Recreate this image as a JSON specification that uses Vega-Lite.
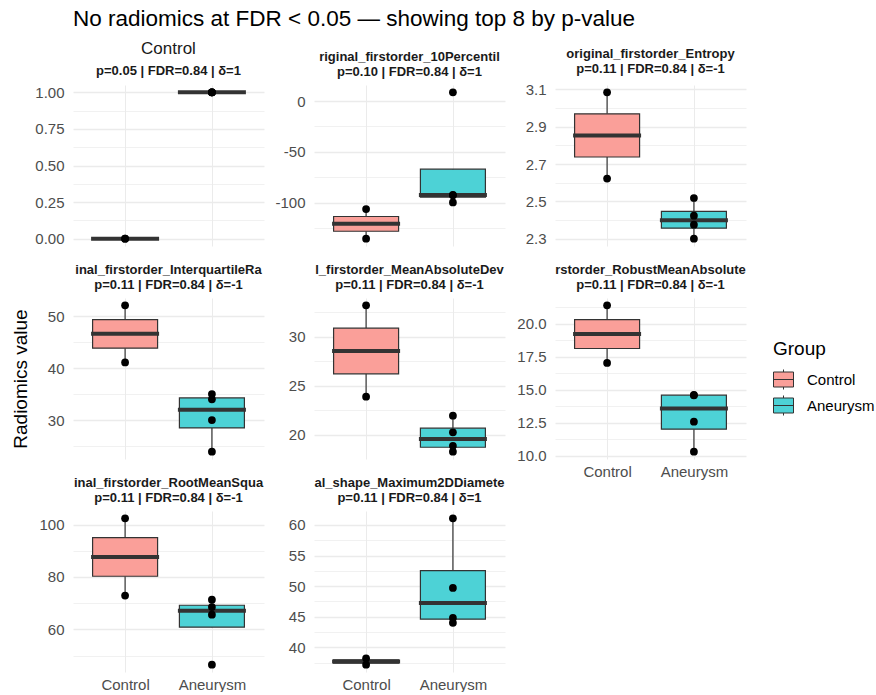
{
  "$schema": "https://vega.github.io/schema/vega-lite/v6.json",
  "autosize": {"type": "pad"},
  "padding": {"left": 10, "top": 8, "right": 2, "bottom": 0},
  "background": "white",
  "title": {"text": "No radiomics at FDR < 0.05 — showing top 8 by p-value", "fontSize": 22.5, "fontWeight": "normal", "color": "black", "anchor": "start", "frame": "group", "offset": 9},
  "data": {"values": [
    {"feature": "Control", "group": "Control", "value": 0},
    {"feature": "Control", "group": "Control", "value": 0},
    {"feature": "Control", "group": "Aneurysm", "value": 1},
    {"feature": "Control", "group": "Aneurysm", "value": 1},
    {"feature": "Control", "group": "Aneurysm", "value": 1},
    {"feature": "Control", "group": "Aneurysm", "value": 1},
    {"feature": "original_firstorder_10Percentile", "group": "Control", "value": -106},
    {"feature": "original_firstorder_10Percentile", "group": "Control", "value": -135},
    {"feature": "original_firstorder_10Percentile", "group": "Aneurysm", "value": 8.5},
    {"feature": "original_firstorder_10Percentile", "group": "Aneurysm", "value": -92},
    {"feature": "original_firstorder_10Percentile", "group": "Aneurysm", "value": -92.5},
    {"feature": "original_firstorder_10Percentile", "group": "Aneurysm", "value": -99.5},
    {"feature": "original_firstorder_Entropy", "group": "Control", "value": 3.084},
    {"feature": "original_firstorder_Entropy", "group": "Control", "value": 2.622},
    {"feature": "original_firstorder_Entropy", "group": "Aneurysm", "value": 2.518},
    {"feature": "original_firstorder_Entropy", "group": "Aneurysm", "value": 2.423},
    {"feature": "original_firstorder_Entropy", "group": "Aneurysm", "value": 2.375},
    {"feature": "original_firstorder_Entropy", "group": "Aneurysm", "value": 2.3},
    {"feature": "original_firstorder_InterquartileRange", "group": "Control", "value": 52.1},
    {"feature": "original_firstorder_InterquartileRange", "group": "Control", "value": 41.1},
    {"feature": "original_firstorder_InterquartileRange", "group": "Aneurysm", "value": 35.0},
    {"feature": "original_firstorder_InterquartileRange", "group": "Aneurysm", "value": 34.0},
    {"feature": "original_firstorder_InterquartileRange", "group": "Aneurysm", "value": 30.0},
    {"feature": "original_firstorder_InterquartileRange", "group": "Aneurysm", "value": 23.9},
    {"feature": "original_firstorder_MeanAbsoluteDeviation", "group": "Control", "value": 33.2},
    {"feature": "original_firstorder_MeanAbsoluteDeviation", "group": "Control", "value": 23.9},
    {"feature": "original_firstorder_MeanAbsoluteDeviation", "group": "Aneurysm", "value": 21.96},
    {"feature": "original_firstorder_MeanAbsoluteDeviation", "group": "Aneurysm", "value": 20.27},
    {"feature": "original_firstorder_MeanAbsoluteDeviation", "group": "Aneurysm", "value": 18.9},
    {"feature": "original_firstorder_MeanAbsoluteDeviation", "group": "Aneurysm", "value": 18.3},
    {"feature": "original_firstorder_RobustMeanAbsoluteDeviation", "group": "Control", "value": 21.38},
    {"feature": "original_firstorder_RobustMeanAbsoluteDeviation", "group": "Control", "value": 17.02},
    {"feature": "original_firstorder_RobustMeanAbsoluteDeviation", "group": "Aneurysm", "value": 14.6},
    {"feature": "original_firstorder_RobustMeanAbsoluteDeviation", "group": "Aneurysm", "value": 14.57},
    {"feature": "original_firstorder_RobustMeanAbsoluteDeviation", "group": "Aneurysm", "value": 12.57},
    {"feature": "original_firstorder_RobustMeanAbsoluteDeviation", "group": "Aneurysm", "value": 10.3},
    {"feature": "original_firstorder_RootMeanSquared", "group": "Control", "value": 102.4},
    {"feature": "original_firstorder_RootMeanSquared", "group": "Control", "value": 72.9},
    {"feature": "original_firstorder_RootMeanSquared", "group": "Aneurysm", "value": 71.3},
    {"feature": "original_firstorder_RootMeanSquared", "group": "Aneurysm", "value": 68.5},
    {"feature": "original_firstorder_RootMeanSquared", "group": "Aneurysm", "value": 65.6},
    {"feature": "original_firstorder_RootMeanSquared", "group": "Aneurysm", "value": 46.5},
    {"feature": "original_shape_Maximum2DDiameterSlice", "group": "Control", "value": 38.2},
    {"feature": "original_shape_Maximum2DDiameterSlice", "group": "Control", "value": 37.17},
    {"feature": "original_shape_Maximum2DDiameterSlice", "group": "Aneurysm", "value": 61.08},
    {"feature": "original_shape_Maximum2DDiameterSlice", "group": "Aneurysm", "value": 49.7},
    {"feature": "original_shape_Maximum2DDiameterSlice", "group": "Aneurysm", "value": 44.8},
    {"feature": "original_shape_Maximum2DDiameterSlice", "group": "Aneurysm", "value": 44.0}
  ]},
  "columns": 3,
  "bounds": "flush",
  "spacing": {"row": 52, "column": 50},
  "concat": [
    {
      "title": {"text": "Control", "subtitle": "p=0.05 | FDR=0.84 | δ=1", "fontSize": 17, "fontWeight": "normal", "subtitlePadding": 7},
      "width": 191, "height": 161,
      "transform": [{"filter": "datum.feature === 'Control'"}],
      "encoding": {
        "x": {"field": "group", "type": "nominal", "sort": ["Control", "Aneurysm"], "scale": {"type": "point", "padding": 0.6}, "axis": {"labels": false, "title": null}},
        "y": {"field": "value", "type": "quantitative", "scale": {"domain": [-0.05, 1.05], "nice": false, "zero": false},
          "axis": {"title": null, "values": [0, 0.125, 0.25, 0.375, 0.5, 0.625, 0.75, 0.875, 1],
            "labelExpr": "indexof([0, 0.25, 0.5, 0.75, 1], datum.value) >= 0 ? format(datum.value, '.2f') : ''",
            "gridWidth": {"condition": {"test": "indexof([0, 0.25, 0.5, 0.75, 1], datum.value) >= 0", "value": 1.4}, "value": 0.7}}}
      },
      "layer": [
        {"mark": {"type": "boxplot", "extent": 1.5, "size": 65, "outliers": false, "ticks": false, "box": {"stroke": "#333333", "strokeWidth": 1.2}, "median": {"stroke": "#333333", "strokeWidth": 3, "opacity": 1}, "rule": {"stroke": "#333333", "strokeWidth": 1.2}},
         "encoding": {"color": {"field": "group", "type": "nominal", "scale": {"domain": ["Control", "Aneurysm"], "range": ["#FA9F99", "#4DD2D6"]}, "title": "Group"}}},
        {"mark": {"type": "circle", "size": 60, "color": "black", "opacity": 1}}
      ]
    },
    {
      "title": {"text": "riginal_firstorder_10Percentil", "subtitle": "p=0.10 | FDR=0.84 | δ=1"},
      "width": 191, "height": 161,
      "transform": [{"filter": "datum.feature === 'original_firstorder_10Percentile'"}],
      "encoding": {
        "x": {"field": "group", "type": "nominal", "sort": ["Control", "Aneurysm"], "scale": {"type": "point", "padding": 0.6}, "axis": {"labels": false, "title": null}},
        "y": {"field": "value", "type": "quantitative", "scale": {"domain": [-142.2, 15.7], "nice": false, "zero": false},
          "axis": {"title": null, "values": [-125, -100, -75, -50, -25, 0],
            "labelExpr": "indexof([-100, -50, 0], datum.value) >= 0 ? toString(datum.value) : ''",
            "gridWidth": {"condition": {"test": "indexof([-100, -50, 0], datum.value) >= 0", "value": 1.4}, "value": 0.7}}}
      },
      "layer": [
        {"mark": {"type": "boxplot", "extent": 1.5, "size": 65, "outliers": false, "ticks": false, "box": {"stroke": "#333333", "strokeWidth": 1.2}, "median": {"stroke": "#333333", "strokeWidth": 3, "opacity": 1}, "rule": {"stroke": "#333333", "strokeWidth": 1.2}},
         "encoding": {"color": {"field": "group", "type": "nominal", "scale": {"domain": ["Control", "Aneurysm"], "range": ["#FA9F99", "#4DD2D6"]}, "title": "Group"}}},
        {"mark": {"type": "circle", "size": 60, "color": "black", "opacity": 1}}
      ]
    },
    {
      "title": {"text": "original_firstorder_Entropy", "subtitle": "p=0.11 | FDR=0.84 | δ=-1"},
      "width": 191, "height": 161,
      "transform": [{"filter": "datum.feature === 'original_firstorder_Entropy'"}],
      "encoding": {
        "x": {"field": "group", "type": "nominal", "sort": ["Control", "Aneurysm"], "scale": {"type": "point", "padding": 0.6}, "axis": {"labels": false, "title": null}},
        "y": {"field": "value", "type": "quantitative", "scale": {"domain": [2.261, 3.123], "nice": false, "zero": false},
          "axis": {"title": null, "values": [2.3, 2.4, 2.5, 2.6, 2.7, 2.8, 2.9, 3.0, 3.1],
            "labelExpr": "indexof([2.3, 2.5, 2.7, 2.9, 3.1], datum.value) >= 0 ? format(datum.value, '.1f') : ''",
            "gridWidth": {"condition": {"test": "indexof([2.3, 2.5, 2.7, 2.9, 3.1], datum.value) >= 0", "value": 1.4}, "value": 0.7}}}
      },
      "layer": [
        {"mark": {"type": "boxplot", "extent": 1.5, "size": 65, "outliers": false, "ticks": false, "box": {"stroke": "#333333", "strokeWidth": 1.2}, "median": {"stroke": "#333333", "strokeWidth": 3, "opacity": 1}, "rule": {"stroke": "#333333", "strokeWidth": 1.2}},
         "encoding": {"color": {"field": "group", "type": "nominal", "scale": {"domain": ["Control", "Aneurysm"], "range": ["#FA9F99", "#4DD2D6"]}, "title": "Group"}}},
        {"mark": {"type": "circle", "size": 60, "color": "black", "opacity": 1}}
      ]
    },
    {
      "title": {"text": "inal_firstorder_InterquartileRa", "subtitle": "p=0.11 | FDR=0.84 | δ=-1"},
      "width": 191, "height": 161,
      "transform": [{"filter": "datum.feature === 'original_firstorder_InterquartileRange'"}],
      "encoding": {
        "x": {"field": "group", "type": "nominal", "sort": ["Control", "Aneurysm"], "scale": {"type": "point", "padding": 0.6}, "axis": {"labels": false, "title": null}},
        "y": {"field": "value", "type": "quantitative", "scale": {"domain": [22.49, 53.51], "nice": false, "zero": false},
          "axis": {"title": "Radiomics value", "titleFontSize": 19, "titleFontWeight": "normal", "titleColor": "black", "titlePadding": 3,
            "values": [25, 30, 35, 40, 45, 50],
            "labelExpr": "indexof([30, 40, 50], datum.value) >= 0 ? toString(datum.value) : ''",
            "gridWidth": {"condition": {"test": "indexof([30, 40, 50], datum.value) >= 0", "value": 1.4}, "value": 0.7}}}
      },
      "layer": [
        {"mark": {"type": "boxplot", "extent": 1.5, "size": 65, "outliers": false, "ticks": false, "box": {"stroke": "#333333", "strokeWidth": 1.2}, "median": {"stroke": "#333333", "strokeWidth": 3, "opacity": 1}, "rule": {"stroke": "#333333", "strokeWidth": 1.2}},
         "encoding": {"color": {"field": "group", "type": "nominal", "scale": {"domain": ["Control", "Aneurysm"], "range": ["#FA9F99", "#4DD2D6"]}, "title": "Group"}}},
        {"mark": {"type": "circle", "size": 60, "color": "black", "opacity": 1}}
      ]
    },
    {
      "title": {"text": "l_firstorder_MeanAbsoluteDev", "subtitle": "p=0.11 | FDR=0.84 | δ=-1"},
      "width": 191, "height": 161,
      "transform": [{"filter": "datum.feature === 'original_firstorder_MeanAbsoluteDeviation'"}],
      "encoding": {
        "x": {"field": "group", "type": "nominal", "sort": ["Control", "Aneurysm"], "scale": {"type": "point", "padding": 0.6}, "axis": {"labels": false, "title": null}},
        "y": {"field": "value", "type": "quantitative", "scale": {"domain": [17.555, 33.945], "nice": false, "zero": false},
          "axis": {"title": null, "values": [20, 22.5, 25, 27.5, 30, 32.5],
            "labelExpr": "indexof([20, 25, 30], datum.value) >= 0 ? toString(datum.value) : ''",
            "gridWidth": {"condition": {"test": "indexof([20, 25, 30], datum.value) >= 0", "value": 1.4}, "value": 0.7}}}
      },
      "layer": [
        {"mark": {"type": "boxplot", "extent": 1.5, "size": 65, "outliers": false, "ticks": false, "box": {"stroke": "#333333", "strokeWidth": 1.2}, "median": {"stroke": "#333333", "strokeWidth": 3, "opacity": 1}, "rule": {"stroke": "#333333", "strokeWidth": 1.2}},
         "encoding": {"color": {"field": "group", "type": "nominal", "scale": {"domain": ["Control", "Aneurysm"], "range": ["#FA9F99", "#4DD2D6"]}, "title": "Group"}}},
        {"mark": {"type": "circle", "size": 60, "color": "black", "opacity": 1}}
      ]
    },
    {
      "title": {"text": "rstorder_RobustMeanAbsolute", "subtitle": "p=0.11 | FDR=0.84 | δ=-1"},
      "width": 191, "height": 161,
      "transform": [{"filter": "datum.feature === 'original_firstorder_RobustMeanAbsoluteDeviation'"}],
      "encoding": {
        "x": {"field": "group", "type": "nominal", "sort": ["Control", "Aneurysm"], "scale": {"type": "point", "padding": 0.6}, "axis": {"labels": true, "labelAngle": 0, "title": null, "labelPadding": 5}},
        "y": {"field": "value", "type": "quantitative", "scale": {"domain": [9.746, 21.934], "nice": false, "zero": false},
          "axis": {"title": null, "values": [10, 11.25, 12.5, 13.75, 15, 16.25, 17.5, 18.75, 20, 21.25],
            "labelExpr": "indexof([10, 12.5, 15, 17.5, 20], datum.value) >= 0 ? format(datum.value, '.1f') : ''",
            "gridWidth": {"condition": {"test": "indexof([10, 12.5, 15, 17.5, 20], datum.value) >= 0", "value": 1.4}, "value": 0.7}}}
      },
      "layer": [
        {"mark": {"type": "boxplot", "extent": 1.5, "size": 65, "outliers": false, "ticks": false, "box": {"stroke": "#333333", "strokeWidth": 1.2}, "median": {"stroke": "#333333", "strokeWidth": 3, "opacity": 1}, "rule": {"stroke": "#333333", "strokeWidth": 1.2}},
         "encoding": {"color": {"field": "group", "type": "nominal", "scale": {"domain": ["Control", "Aneurysm"], "range": ["#FA9F99", "#4DD2D6"]}, "title": "Group"}}},
        {"mark": {"type": "circle", "size": 60, "color": "black", "opacity": 1}}
      ]
    },
    {
      "title": {"text": "inal_firstorder_RootMeanSqua", "subtitle": "p=0.11 | FDR=0.84 | δ=-1"},
      "width": 191, "height": 161,
      "transform": [{"filter": "datum.feature === 'original_firstorder_RootMeanSquared'"}],
      "encoding": {
        "x": {"field": "group", "type": "nominal", "sort": ["Control", "Aneurysm"], "scale": {"type": "point", "padding": 0.6}, "axis": {"labels": true, "labelAngle": 0, "title": null, "labelPadding": 5}},
        "y": {"field": "value", "type": "quantitative", "scale": {"domain": [43.7, 105.2], "nice": false, "zero": false},
          "axis": {"title": null, "values": [50, 60, 70, 80, 90, 100],
            "labelExpr": "indexof([60, 80, 100], datum.value) >= 0 ? toString(datum.value) : ''",
            "gridWidth": {"condition": {"test": "indexof([60, 80, 100], datum.value) >= 0", "value": 1.4}, "value": 0.7}}}
      },
      "layer": [
        {"mark": {"type": "boxplot", "extent": 1.5, "size": 65, "outliers": false, "ticks": false, "box": {"stroke": "#333333", "strokeWidth": 1.2}, "median": {"stroke": "#333333", "strokeWidth": 3, "opacity": 1}, "rule": {"stroke": "#333333", "strokeWidth": 1.2}},
         "encoding": {"color": {"field": "group", "type": "nominal", "scale": {"domain": ["Control", "Aneurysm"], "range": ["#FA9F99", "#4DD2D6"]}, "title": "Group"}}},
        {"mark": {"type": "circle", "size": 60, "color": "black", "opacity": 1}}
      ]
    },
    {
      "title": {"text": "al_shape_Maximum2DDiamete", "subtitle": "p=0.11 | FDR=0.84 | δ=1"},
      "width": 191, "height": 161,
      "transform": [{"filter": "datum.feature === 'original_shape_Maximum2DDiameterSlice'"}],
      "encoding": {
        "x": {"field": "group", "type": "nominal", "sort": ["Control", "Aneurysm"], "scale": {"type": "point", "padding": 0.6}, "axis": {"labels": true, "labelAngle": 0, "title": null, "labelPadding": 5}},
        "y": {"field": "value", "type": "quantitative", "scale": {"domain": [35.97, 62.28], "nice": false, "zero": false},
          "axis": {"title": null, "values": [37.5, 40, 42.5, 45, 47.5, 50, 52.5, 55, 57.5, 60],
            "labelExpr": "indexof([40, 45, 50, 55, 60], datum.value) >= 0 ? toString(datum.value) : ''",
            "gridWidth": {"condition": {"test": "indexof([40, 45, 50, 55, 60], datum.value) >= 0", "value": 1.4}, "value": 0.7}}}
      },
      "layer": [
        {"mark": {"type": "boxplot", "extent": 1.5, "size": 65, "outliers": false, "ticks": false, "box": {"stroke": "#333333", "strokeWidth": 1.2}, "median": {"stroke": "#333333", "strokeWidth": 3, "opacity": 1}, "rule": {"stroke": "#333333", "strokeWidth": 1.2}},
         "encoding": {"color": {"field": "group", "type": "nominal", "scale": {"domain": ["Control", "Aneurysm"], "range": ["#FA9F99", "#4DD2D6"]}, "title": "Group"}}},
        {"mark": {"type": "circle", "size": 60, "color": "black", "opacity": 1}}
      ]
    }
  ],
  "config": {
    "font": "Liberation Sans",
    "view": {"stroke": null},
    "axis": {"domain": false, "ticks": false, "grid": true, "gridColor": "#EBEBEB", "labelColor": "#4D4D4D", "labelFontSize": 15, "labelPadding": 9, "labelOverlap": false},
    "axisY": {"minExtent": 40, "maxExtent": 40},
    "title": {"fontSize": 13, "fontWeight": "bold", "color": "#1A1A1A", "subtitleFontSize": 13, "subtitleFontWeight": "bold", "subtitleColor": "#1A1A1A", "subtitlePadding": 1.5, "offset": 6.5, "anchor": "middle"},
    "legend": {"orient": "none", "legendX": 700, "legendY": 255, "titleFontSize": 19, "titleFontWeight": "normal", "titleColor": "black", "titlePadding": 10, "labelFontSize": 15, "labelColor": "black", "labelOffset": 13, "rowPadding": 1,
      "symbolType": "M-1,-0.75H1V0.75H-1Z M0,-1V-0.75 M0,0.75V1 M-1,0H1", "symbolSize": 400, "symbolStrokeColor": "#333333", "symbolStrokeWidth": 1, "symbolOpacity": 1}
  }
}
